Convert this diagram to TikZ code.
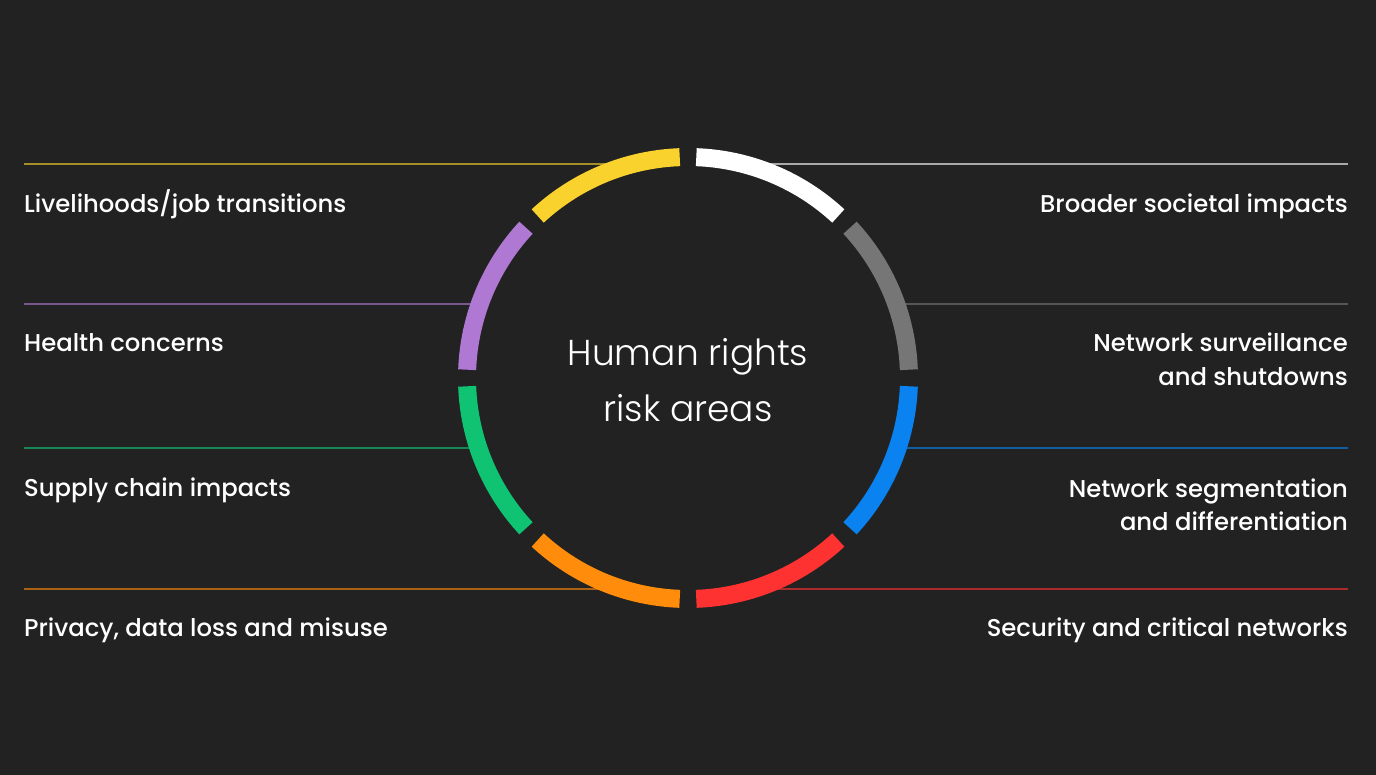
\documentclass[tikz,border=0pt]{standalone}
\usepackage{fontspec}
\newfontfamily\labfont{Poppins Medium}
\newfontfamily\titlefont{Poppins Light}
\definecolor{bg}{HTML}{222222}
\definecolor{cyellow}{HTML}{FAD22D}
\definecolor{cwhite}{HTML}{FFFFFF}
\definecolor{cgray}{HTML}{767676}
\definecolor{cblue}{HTML}{0A82F0}
\definecolor{cred}{HTML}{FF3232}
\definecolor{corange}{HTML}{FF8C0A}
\definecolor{cgreen}{HTML}{0FC373}
\definecolor{cpurple}{HTML}{AF78D2}
\tikzset{
  seg/.style={line width=18pt, line cap=butt},
  guide/.style={line width=1.8pt, draw opacity=0.62},
  lab/.style={text=white, inner sep=0pt, font=\labfont\fontsize{24.3}{33}\selectfont},
  labl/.style={lab, anchor=base west, align=left},
  labr/.style={lab, anchor=base east, align=right},
}
\begin{document}
\begin{tikzpicture}[x=1pt,y=-1pt]
\fill[bg] (0,0) rectangle (1376,775);
\useasboundingbox (0,0) rectangle (1376,775);
\coordinate (c) at (688,378);
\def\R{221}
% guide lines (behind ring)
\coordinate (l1) at (24,164);   \coordinate (l1e) at (632.8,164);
\coordinate (l2) at (24,304);   \coordinate (l2e) at (479.8,304);
\coordinate (l3) at (24,448);   \coordinate (l3e) at (478.4,448);
\coordinate (l4) at (24,589);   \coordinate (l4e) at (622.3,589);
\coordinate (r1) at (1348,164); \coordinate (r1e) at (743.2,164);
\coordinate (r2) at (1348,304); \coordinate (r2e) at (896.2,304);
\coordinate (r3) at (1348,448); \coordinate (r3e) at (897.6,448);
\coordinate (r4) at (1348,589); \coordinate (r4e) at (753.7,589);
\draw[guide, cyellow] (l1) -- (l1e);
\draw[guide, cpurple] (l2) -- (l2e);
\draw[guide, cgreen]  (l3) -- (l3e);
\draw[guide, corange] (l4) -- (l4e);
\draw[guide, cwhite]  (r1) -- (r1e);
\draw[guide, cgray]   (r2) -- (r2e);
\draw[guide, cblue]   (r3) -- (r3e);
\draw[guide, cred]    (r4) -- (r4e);
% ring segments (y axis points down, so positive angles go clockwise on screen)
\def\g{2.15}
\foreach \k/\col in {0/cblue,1/cred,2/corange,3/cgreen,4/cpurple,5/cyellow,6/cwhite,7/cgray}{
  \draw[seg, \col] ([shift={({\k*45+\g}:\R)}]c) arc[start angle={\k*45+\g}, end angle={(\k+1)*45-\g}, radius=\R];
}
% centre title (base anchor = baseline of last line)
\node[text=white, inner sep=0pt, align=center, font=\titlefont\fontsize{36}{56.5}\selectfont, anchor=base] (title) at (688,421.5) {Human rights\\risk areas};
% labels
\node[labl] (t1) at (24,213) {Livelihoods/job transitions};
\node[labl] (t2) at (24,352) {Health concerns};
\node[labl] (t3) at (24,496) {Supply chain impacts};
\node[labl] (t4) at (24,636) {Privacy, data loss and misuse};
\node[labr] (u1) at (1348,213) {Broader societal impacts};
\node[labr] (u2) at (1348,385) {Network surveillance\\and shutdowns};
\node[labr] (u3) at (1348,530) {Network segmentation\\and differentiation};
\node[labr] (u4) at (1348,636) {Security and critical networks};
\end{tikzpicture}
\end{document}
